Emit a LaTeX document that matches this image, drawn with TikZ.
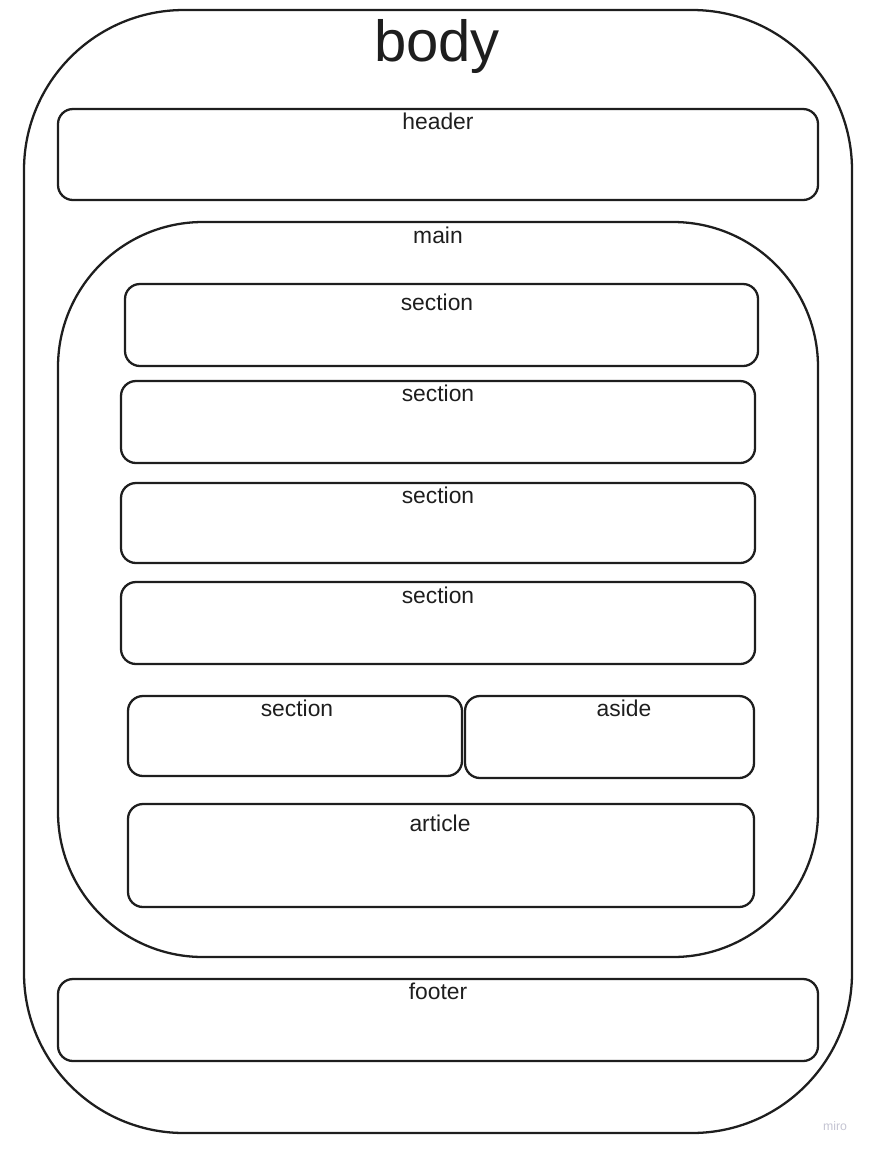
\documentclass[tikz,border=0pt]{standalone}
\usepackage{fontspec}
\setsansfont{Liberation Sans}
\definecolor{ink}{HTML}{1E1E1E}
\definecolor{mirogray}{HTML}{C4C4D2}
\newcommand\Block[8]{
  \node[box,minimum width=#3cm,minimum height=#4cm] (#5) at (#1,#2) {};
  \node[lbl] (#5txt) at ([xshift=#7cm,yshift=-#8cm] #5.north) {#6};
}
\tikzstyle{box}=[rectangle,draw=ink,line width=1.3pt,rounded corners=0.3cm,inner sep=0pt]
\tikzstyle{lbl}=[anchor=base,inner sep=0pt,text=ink,font=\sffamily\fontsize{13}{15}\selectfont]
\begin{document}
\begin{tikzpicture}
  \useasboundingbox (0,0) rectangle (17.38,-23);

  \node[box,rounded corners=3.2cm,minimum width=16.56cm,minimum height=22.46cm] (body) at (8.76,-11.43) {};
  \node[lbl,font=\sffamily\fontsize{33}{39}\selectfont] (bodytxt) at ([xshift=-0.02cm,yshift=-1.06cm] body.north) {body};

  \Block{8.76}{-3.09}{15.2}{1.82}{header}{header}{0}{0.44}

  \node[box,rounded corners=2.9cm,minimum width=15.2cm,minimum height=14.7cm] (main) at (8.76,-11.79) {};
  \node[lbl] (maintxt) at ([yshift=-0.46cm] main.north) {main};

  \Block{8.83}{-6.5}{12.66}{1.64}{secA}{section}{-0.09}{0.56}
  \Block{8.76}{-8.44}{12.68}{1.64}{secB}{section}{0}{0.44}
  \Block{8.76}{-10.46}{12.68}{1.6}{secC}{section}{0}{0.44}
  \Block{8.76}{-12.46}{12.68}{1.64}{secD}{section}{0}{0.46}
  \Block{5.9}{-14.72}{6.68}{1.6}{secE}{section}{0.04}{0.44}
  \Block{12.19}{-14.74}{5.78}{1.64}{aside}{aside}{0.29}{0.44}
  \Block{8.82}{-17.11}{12.52}{2.06}{article}{article}{-0.02}{0.58}

  \Block{8.76}{-20.4}{15.2}{1.64}{footer}{footer}{0}{0.44}

  \node[text=mirogray,font=\sffamily\fontsize{7}{8}\selectfont] (miro) at (16.7,-22.52) {miro};
\end{tikzpicture}
\end{document}
